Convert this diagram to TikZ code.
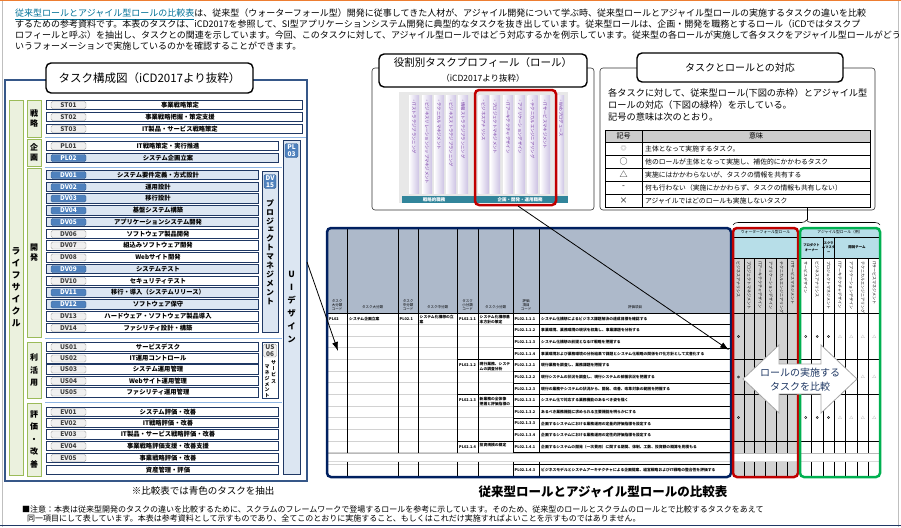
\documentclass[tikz,border=0pt]{standalone}
\usepackage{fontspec}
\setmainfont{Noto Sans CJK JP}
\newfontfamily\tatefont[RawFeature=+vert]{Noto Sans CJK JP}
\usetikzlibrary{arrows.meta,decorations.pathreplacing}
\definecolor{frameblue}{RGB}{54,87,136}
\definecolor{navyline}{RGB}{31,56,100}
\definecolor{taskblue}{RGB}{220,230,242}
\definecolor{codeblue}{RGB}{79,129,189}
\definecolor{lgreen}{RGB}{235,241,222}
\definecolor{dgreen}{RGB}{155,187,89}
\definecolor{sepblue}{RGB}{141,180,226}
\definecolor{linkteal}{RGB}{0,112,150}
\definecolor{tblnavy}{RGB}{0,32,96}
\definecolor{hdrgray}{RGB}{173,185,202}
\definecolor{wfred}{RGB}{192,0,0}
\definecolor{agreen}{RGB}{0,176,80}
\definecolor{hdrcyan}{RGB}{183,222,232}
\definecolor{rolepurple}{RGB}{112,48,160}
\definecolor{rolelav}{RGB}{205,195,228}
\definecolor{barteal}{RGB}{49,133,155}
\definecolor{slideorange}{RGB}{237,125,49}
\newcommand\fs[2]{\fontsize{#1}{#2}\selectfont}
\makeatletter
\newcommand\tate[1]{\vbox{\@tfor\tate@c:=#1\do{\hbox to 1.05em{\hss\tate@c\hss}}}}
\makeatother
\begin{document}
\begin{tikzpicture}[x=1pt,y=-1pt,
  taskrow0/.style={draw=navyline, line width=0.7, fill=white, minimum height=9.5, inner sep=0, anchor=west},
  taskrow1/.style={taskrow0, fill=taskblue},
  code0/.style={draw=gray!70, fill=gray!12, text=black!75, rounded corners=1.5pt, minimum width=35, minimum height=7, inner sep=0, font=\bfseries\fs{6.5}{7}},
  code1/.style={code0, draw=codeblue!80!black, fill=codeblue, text=white},
  tasktxt/.style={font=\bfseries\fs{6.3}{7}, inner sep=0},
  stage/.style={draw=dgreen, fill=lgreen, line width=0.8, inner sep=0, font=\tatefont\bfseries\fs{8}{10.5}},
  sidebox/.style={draw=navyline, line width=0.7, fill=taskblue, inner sep=0, anchor=north west},
  sidecode/.style={font=\bfseries\fs{5.5}{5.5}, align=center, minimum width=13, minimum height=14},
  titlebox/.style={draw, line width=1.4, fill=white, rounded corners=5pt},
  panel/.style={draw=black!80, line width=0.6, rounded corners=3pt},
  rolecol/.style={rotate=-90, anchor=west, inner sep=0, text=rolepurple, font=\fs{4.3}{4.5}},
  rolelbl/.style={rotate=-90, anchor=west, inner sep=0, font=\fs{4}{4.5}},
  hdrlbl/.style={align=center, inner sep=0, font=\fs{3.5}{4.2}},
  cellcode/.style={anchor=west, inner sep=0, font=\bfseries\fs{3.8}{4.5}},
  celltxt/.style={anchor=west, inner sep=0, font=\bfseries\fs{3.8}{4.5}},
  cellmulti/.style={anchor=north west, align=left, inner sep=0, font=\bfseries\fs{3.8}{4.6}},
  dotmark/.style={circle, draw, line width=0.4, inner sep=0, minimum size=2.2},
  trimark/.style={inner sep=0, text=gray!70!black, font=\fs{4}{4}},
  legtxt/.style={anchor=west, inner sep=0, font=\fs{6.8}{7}},
  rowgray/.style={gray!35, line width=1},
  pointer/.style={-{Latex[length=9pt,width=6pt]}, line width=0.8}]
\useasboundingbox (0,0) rectangle (901,527);
% slide border
\draw[gray!50] (2,0) -- (2,527);
\draw[gray!50] (898,0) -- (898,527);
\draw[slideorange, line width=1.5] (0,0.75) -- (901,0.75);
\draw[navyline, line width=1.5] (0,525.5) -- (901,525.5);

% intro text
\node[anchor=north west, align=left, inner sep=0, font=\fs{9}{11}] (intro) at (15,9)
  {\textcolor{linkteal}{\underline{従来型ロールとアジャイル型ロールの比較表}}は、従来型（ウォーターフォール型）開発に従事してきた人材が、アジャイル開発について学ぶ時、従来型ロールとアジャイル型ロールの実施するタスクの違いを比較\\
   するための参考資料です。本表のタスクは、iCD2017を参照して、SI型アプリケーションシステム開発に典型的なタスクを抜き出しています。従来型ロールは、企画・開発を職務とするロール（iCDではタスクプ\\
   ロフィールと呼ぶ）を抽出し、タスクとの関連を示しています。今回、このタスクに対して、アジャイル型ロールではどう対応するかを例示しています。従来型の各ロールが実施して各タスクをアジャイル型ロールがどう\\
   いうフォーメーションで実施しているのかを確認することができます。};

% task map
\draw[frameblue, line width=2.5] (5,80) rectangle (307,481);
\node[titlebox, minimum width=207, minimum height=30, font=\fs{11.5}{12}] (kousei) at (149.5,78) {タスク構成図（iCD2017より抜粋）};
\node[stage, minimum width=14, minimum height=375, font=\tatefont\bfseries\fs{9}{12}] (lifecycle) at (16,287.5) {\tate{ライフサイクル}};
\node[stage, minimum width=14, minimum height=37] (senryaku) at (34,118.5) {\tate{戦略}};
\node[stage, minimum width=14, minimum height=27] (kikaku) at (34,152.5) {\tate{企画}};
\node[stage, minimum width=14, minimum height=169] (kaihatsu) at (34,252.5) {\tate{開発}};
\node[stage, minimum width=14, minimum height=56, font=\tatefont\bfseries\fs{8}{12.5}] (rikatsuyo) at (34,370) {\tate{利活用}};
\node[stage, minimum width=14, minimum height=73, font=\tatefont\bfseries\fs{8}{12.5}] (hyoka) at (34,439.5) {\tate{評価・改善}};
\draw[sepblue, line width=1] (45,137.5) -- (306,137.5);
\draw[sepblue, line width=1] (45,167) -- (282,167);
\draw[sepblue, line width=1] (45,338) -- (282,338);
\draw[sepblue, line width=1] (45,402) -- (282,402);
\foreach \code/\txt/\y/\r/\sel in {
  ST01/事業戦略策定/105/302/0, ST02/事業戦略把握・策定支援/117/302/0,
  ST03/IT製品・サービス戦略策定/129/302/0, PL01/IT戦略策定・実行推進/146/278/0,
  PL02/システム企画立案/158/278/1, DV01/システム要件定義・方式設計/175/258/1,
  DV02/運用設計/187/258/1, DV03/移行設計/198.5/258/1, DV04/基盤システム構築/210.5/258/1,
  DV05/アプリケーションシステム開発/222/258/1, DV06/ソフトウェア製品開発/234/258/0,
  DV07/組込みソフトウェア開発/245.5/258/0, DV08/Webサイト開発/257.5/258/0,
  DV09/システムテスト/269/258/1, DV10/セキュリティテスト/281/258/0,
  DV11/移行・導入（システムリリース）/292.5/258/1, DV12/ソフトウェア保守/304.5/258/1,
  DV13/ハードウェア・ソフトウェア製品導入/316.5/258/0, DV14/ファシリティ設計・構築/328/258/0,
  US01/サービスデスク/347/258/0, US02/IT運用コントロール/358.5/258/0,
  US03/システム運用管理/369.5/258/0, US04/Webサイト運用管理/381/258/0,
  US05/ファシリティ運用管理/392.5/258/0, EV01/システム評価・改善/412/278/0,
  EV02/IT戦略評価・改善/423/278/0, EV03/IT製品・サービス戦略評価・改善/434.5/278/0,
  EV04/事業戦略評価支援・改善支援/446/278/0, EV05/事業戦略評価・改善/458/278/0}{
  \node[taskrow\sel, minimum width={\r-46}] (row\code) at (46,\y) {};
  \node[code\sel] (c\code) at (68.5,\y) {\code};
  \node[tasktxt] (t\code) at ({(46+\r)/2+6},\y) {\txt};
}
\node[taskrow0, minimum width=232] (rowasset) at (46,470) {};
\node[tasktxt] (tasset) at (168,470) {資産管理・評価};
\node[sidebox, minimum width=17, minimum height=334] (pl03) at (283,140) {};
\node[sidecode, code1, minimum width=13, minimum height=14] (cPL03) at (291.5,150.5) {PL\\03};
\node[stage, draw=none, fill=none, font=\tatefont\bfseries\fs{8.5}{13}] (uidesign) at (291.5,307.5) {\tate{UIデザイン}};
\node[sidebox, minimum width=16, minimum height=161] (dv15) at (262,171) {};
\node[sidecode, code1, minimum width=12, minimum height=14] (cDV15) at (270,181.5) {DV\\15};
\node[stage, draw=none, fill=none, font=\tatefont\bfseries\fs{8}{8.9}] (pm) at (270,252) {\tate{プロジェクトマネジメント}};
\node[sidebox, fill=white, minimum width=16, minimum height=56] (us06) at (262,342) {};
\node[sidecode, code0, minimum width=13, minimum height=13] (cUS06) at (270,350.5) {US\\06};
\node[stage, draw=none, fill=none, font=\tatefont\bfseries\fs{5}{6.2}] (smA) at (273.5,372) {\tate{サービス}};
\node[stage, draw=none, fill=none, font=\tatefont\bfseries\fs{5}{5.8}] (smB) at (267,381.5) {\tate{マネジメント}};
\node[font=\fs{9.5}{10}] (extract) at (203,491) {※比較表では青色のタスクを抽出};

% role profile
\draw[panel] (372,68) rectangle (594,210);
\node[titlebox, minimum width=208, minimum height=33] (yakuwari) at (483,70.5) {};
\node[font=\fs{10.5}{11}] (yakuT) at (483,63) {役割別タスクプロフィール（ロール）};
\node[font=\fs{8.5}{9}] (yakuS) at (483,78.5) {（iCD2017より抜粋）};
\fill[gray!18] (399,92) rectangle (568,203);
\foreach \x/\t [count=\n] in {414/・ITストラテジプランニング, 427/・ビジネスリレーションシップマネジメント,
  439/・テクニカルマネジメント, 451/・ビジネスストラテジプランニング, 463/・情報ストラテジプランニング,
  483.5/・ビジネスアナリシス, 495/・プロジェクトマネジメント, 508/・ITアーキテクチャデザイン,
  520/・アプリケーションデザイン, 532.5/・テクニカルエンジニアリング, 545/・ITサービスマネジメント}{
  \shade[left color=white, right color=rolelav] (\x-5,95) rectangle (\x+5,193);
  \node[rolecol] (role\n) at (\x,98) {\t};
}
\shade[left color=white, right color=rolelav] (557,95) rectangle (564,193);
\node[rolecol] (role12) at (561,98) {・Webプロデュース};
\fill[barteal] (402,196) rectangle (568,203);
\node[inner sep=0, text=white, font=\bfseries\fs{4.5}{5}] (senryakuS) at (434,199.5) {戦略的職務};
\node[inner sep=0, text=white, font=\bfseries\fs{4.5}{5}] (kaihatsuS) at (520,199.5) {企画・開発・運用職務};
\draw[wfred, line width=2.5, rounded corners=4pt] (475,90) rectangle (556,205);
\coordinate (redbot) at (518,206);

% legend
\draw[panel] (600,68) rectangle (875,210);
\node[titlebox, minimum width=206, minimum height=29, font=\fs{10}{11}] (taiou) at (740,67.5) {タスクとロールとの対応};
\node[anchor=north west, align=left, inner sep=0, font=\fs{9.2}{12.2}] (taiouT) at (608,88)
  {各タスクに対して、従来型ロール(下図の赤枠）とアジャイル型\\ロールの対応（下図の緑枠）を示している。\\記号の意味は次のとおり。};
\fill[gray!40] (605,130) rectangle (870,142);
\foreach \y in {142,155,168,181,194} \draw[line width=0.6] (605,\y) -- (870,\y);
\draw[line width=0.8] (605,130) rectangle (870,207);
\draw[line width=0.6] (642,130) -- (642,207);
\node[inner sep=0, font=\fs{7}{7}] (kigo) at (623.5,136) {記号};
\node[inner sep=0, font=\fs{7}{7}] (imi) at (756,136) {意味};
\node[inner sep=0, text=gray, font=\fs{6}{6}] (sym1) at (623.5,148.5) {◎};
\foreach \k/\s/\t in {2/○/他のロールが主体となって実施し、補佐的にかかわるタスク,
  3/△/実施にはかかわらないが、タスクの情報を共有する, 4/-/何も行わない（実施にかかわらず、タスクの情報も共有しない）,
  5/×/アジャイルではどのロールも実施しないタスク}
  \node[inner sep=0, font=\fs{8}{8}] (sym\k) at (623.5,{142+(\k-0.5)*13}) {\s};
\foreach \k/\t in {1/主体となって実施するタスク。, 2/他のロールが主体となって実施し、補佐的にかかわるタスク,
  3/実施にはかかわらないが、タスクの情報を共有する, 4/何も行わない（実施にかかわらず、タスクの情報も共有しない）,
  5/アジャイルではどのロールも実施しないタスク}
  \node[legtxt] (mean\k) at (645,{142+(\k-0.5)*13}) {\t};
\coordinate (legbot) at (807,207);
\coordinate (bracetip) at (807,219.5);
\draw[line width=0.6] (legbot) -- (bracetip);
\draw[line width=0.6, decorate, decoration={brace, amplitude=5pt}] (733,225) -- (880,225);

% comparison table
\fill[hdrgray] (327,228) rectangle (731,313);
\foreach \k in {1,...,13} {
  \draw[rowgray] (328,{313+\k*11.64}) -- (457,{313+\k*11.64});
  \draw[line width=0.5] (513,{313+\k*11.64}) -- (731,{313+\k*11.64});
}
\foreach \k in {1,2,3,5,6,8,9,10,12,13} \draw[rowgray] (457,{313+\k*11.64}) -- (513,{313+\k*11.64});
\foreach \k in {4,7,11} \draw[line width=0.6] (457,{313+\k*11.64}) -- (513,{313+\k*11.64});
\foreach \x in {347,398,418,457,478,513,539} \draw[line width=0.7] (\x,229) -- (\x,476);
\draw[line width=0.7] (327,313) -- (731,313);
\node[hdrlbl] (h1) at (337,305) {タスク\\大分類\\コード};
\node[hdrlbl] (h2) at (372.5,307) {タスク大分類};
\node[hdrlbl] (h3) at (408,305) {タスク\\中分類\\コード};
\node[hdrlbl] (h4) at (437.5,307) {タスク中分類};
\node[hdrlbl] (h5) at (467.5,305) {タスク\\小分類\\コード};
\node[hdrlbl] (h6) at (495.5,307) {タスク小分類};
\node[hdrlbl] (h7) at (526,305) {評価\\項目\\コード};
\node[hdrlbl] (h8) at (635,307) {評価項目};
\node[cellcode] (dai) at (329,319) {PL02};
\node[celltxt] (daiT) at (349,319) {システム企画立案};
\node[cellcode] (chu) at (399.5,319) {PL02.1};
\node[cellmulti] (chuT) at (419.5,315.5) {システム化構想の立\\案};
\foreach \k/\cd/\tx in {1/PL02.1.1/システム化構想基\\本方針の策定, 5/PL02.1.2/現行業務、システ\\ムの調査分析,
  8/PL02.1.3/新業務の全体像\\把握と評価指標の, 12/PL02.1.4/投資規模の概定}{
  \node[cellcode] (sho\k) at (459,{313+(\k-0.5)*11.64}) {\cd};
  \node[cellmulti] (shoT\k) at (479.5,{313+(\k-1)*11.64+2.5}) {\tx};
}
\foreach \k/\cd/\tx in {
  1/PL02.1.1.1/システム化構想によるビジネス課題解決の達成目標を確認する,
  2/PL02.1.1.2/事業環境、業務環境の現状を収集し、事業課題を分析する,
  3/PL02.1.1.3/システム化構想の前提となるIT戦略を把握する,
  4/PL02.1.1.4/事業環境および業務環境の分析結果で課題とシステム化戦略の関係をIT化方針として文書化する,
  5/PL02.1.2.1/現行業務を調査し、業務課題を把握する,
  6/PL02.1.2.2/現行システムの状況を調査し、現行システムの稼働状況を把握する,
  7/PL02.1.2.3/現行の業務やシステムの状況から、開発、改善、改革対象の範囲を把握する,
  8/PL02.1.3.1/システム化で対応する業務機能のあるべき姿を描く,
  9/PL02.1.3.2/あるべき業務機能に求められる主要機能を明らかにする,
  10/PL02.1.3.3/企画するシステムにおける業務運用の定量的評価指標を設定する,
  11/PL02.1.3.4/企画するシステムにおける業務運用の定性的評価指標を設定する,
  12/PL02.1.4.1/企画するシステムの開発（一次費用）に関する期間、体制、工数、投資額の概算を見積もる,
  14/PL02.1.4.3/ビジネスモデルとシステムアーキテクチャによる企画提案、経営戦略およびIT戦略の整合性を評価する}{
  \node[cellcode] (ev\k) at (514.5,{313+(\k-0.5)*11.64}) {\cd};
  \node[celltxt] (et\k) at (541,{313+(\k-0.5)*11.64}) {\tx};
}

% waterfall roles
\fill[hdrcyan] (733,228) rectangle (798,258);
\fill[gray!35] (733,258) rectangle (798,477);
\foreach \y in {237,258,313,359.6,394.5,441} \draw[line width=0.6] (733,\y) -- (798,\y);
\foreach \i in {1,...,5} \draw[line width=0.6] ({733+\i*10.83},258) -- ({733+\i*10.83},476);
\node[inner sep=0, font=\fs{3.8}{4}] (wfT) at (765.5,232.5) {ウォーターフォール型ロール};
\foreach \i/\t in {1/ビジネスアナリシス, 2/プロジェクトマネジメント, 3/ITアーキテクチャデザイン,
  4/アプリケーションデザイン, 5/テクニカルエンジニアリング, 6/ITサービスマネジメント}
  \node[rolelbl] (wfl\i) at ({733+(\i-0.5)*10.83},261) {\t};
\foreach \g/\y in {1/336.5, 2/377, 3/417.5} \node[dotmark] (wf\g) at (738.4,\y) {};

% agile roles
\fill[hdrcyan] (800,228) rectangle (880,258);
\foreach \y in {237,258,313,359.6,394.5,441} \draw[line width=0.6] (800,\y) -- (880,\y);
\draw[line width=0.6] (822.9,237) -- (822.9,258);
\draw[line width=0.6] (834.3,237) -- (834.3,258);
\foreach \i in {1,...,6} \draw[line width=0.6] ({800+\i*11.43},258) -- ({800+\i*11.43},476);
\node[inner sep=0, font=\fs{3.8}{4}] (agT) at (840,232.5) {アジャイル型ロール（例）};
\node[hdrlbl, font=\bfseries\fs{3.3}{4.5}] (po) at (811.5,247.5) {プロダクト\\オーナー};
\node[hdrlbl, font=\bfseries\fs{3.2}{4.5}] (sm) at (828.6,247.5) {スクラ\\ムマスタ\\ー};
\node[hdrlbl, font=\bfseries\fs{3.5}{4.5}] (devteam) at (857,247.5) {開発チーム};
\foreach \i/\t in {1/サービスデザイン, 2/ビジネスアナリシス, 3/プロジェクトマネジメント, 4/ITアーキテクチャデザイン,
  5/アプリケーションデザイン, 6/テクニカルエンジニアリング, 7/ITサービスマネジメント}
  \node[rolelbl] (agl\i) at ({800+(\i-0.5)*11.43},261) {\t};
\foreach \g/\y in {1/336.5, 3/417.5} {
  \foreach \c in {1,2,3} \node[dotmark] (ag\g\c) at ({800+(\c-0.5)*11.43},\y) {};
  \foreach \c in {4,...,7} \node[trimark] (ag\g\c) at ({800+(\c-0.5)*11.43},\y) {△};
}
\foreach \c in {6,7} \node[trimark] (ag2\c) at ({800+(\c-0.5)*11.43},377) {△};

% cut band and frames
\fill[white] (328,453) rectangle (879,461);
\draw[gray!55, line width=1.2] (328,453.5) -- (879,453.5);
\draw[gray!30] (328,461) -- (879,461);
\draw[tblnavy, line width=2.5, rounded corners=4pt] (327,228) rectangle (731,477);
\draw[wfred, line width=2.5, rounded corners=4pt] (733,228) rectangle (798,477);
\draw[agreen, line width=2.5, rounded corners=4pt] (800,228) rectangle (880,477);

% compare arrow
\draw[fill=white, draw=gray!70, line width=0.8] (743,379) -- (779,345) -- (779,364) -- (821,364) -- (821,345)
  -- (857,379) -- (821,413) -- (821,394) -- (779,394) -- (779,413) -- cycle;
\node[align=center, inner sep=0, text=navyline, font=\fs{10}{14}] (cmptxt) at (800,379.5) {ロールの実施する\\タスクを比較};

% pointers
\coordinate (wfcol) at (729,350);
\coordinate (kouseiR) at (307,262);
\coordinate (tblL) at (338,351);
\draw[pointer] (redbot) -- (wfcol);
\draw[pointer] (kouseiR) -- (tblL);

% captions
\node[font=\bfseries\fs{12.5}{13}] (hikaku) at (603,492) {従来型ロールとアジャイル型ロールの比較表};
\node[anchor=west, inner sep=0, font=\fs{8}{9}] (note1) at (22,509) {■注意：本表は従来型開発のタスクの違いを比較するために、スクラムのフレームワークで登場するロールを参考に示しています。そのため、従来型のロールとスクラムのロールとで比較するタスクをあえて};
\node[anchor=west, inner sep=0, font=\fs{8}{9}] (note2) at (27,518.5) {同一項目にして表しています。本表は参考資料として示すものであり、全てこのとおりに実施すること、もしくはこれだけ実施すればよいことを示すものではありません。};
\end{tikzpicture}
\end{document}
